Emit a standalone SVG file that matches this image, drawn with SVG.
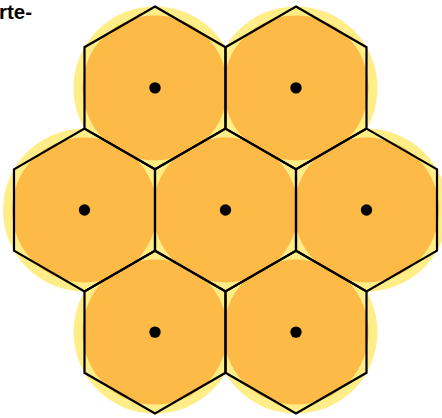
<svg xmlns="http://www.w3.org/2000/svg" xmlns:xlink="http://www.w3.org/1999/xlink" width="442" height="418" viewBox="0 0 442 418">
<style>
.halo{fill:#FFEE88;}
.core{fill:#FDBA46;}
.hex{fill:none;stroke:#000;stroke-width:2.2;stroke-linejoin:miter;}
.dot{fill:#000;}
.lbl{font-family:"Liberation Sans",Arial,sans-serif;font-weight:bold;font-size:20.5px;fill:#000;}
</style>
<defs>
<polygon id="hx" points="0,-81.4 70.5,-40.7 70.5,40.7 0,81.4 -70.5,40.7 -70.5,-40.7"/>
</defs>
<rect width="442" height="418" fill="#fff"/>
<g id="coverage">
<circle class="halo" cx="155" cy="87.9" r="81.5"/>
<circle class="halo" cx="296" cy="87.9" r="81.5"/>
<circle class="halo" cx="84.5" cy="210" r="81.5"/>
<circle class="halo" cx="225.5" cy="210" r="81.5"/>
<circle class="halo" cx="366.5" cy="210" r="81.5"/>
<circle class="halo" cx="155" cy="332.1" r="81.5"/>
<circle class="halo" cx="296" cy="332.1" r="81.5"/>
<circle class="core" cx="155" cy="87.9" r="72.5"/>
<circle class="core" cx="296" cy="87.9" r="72.5"/>
<circle class="core" cx="84.5" cy="210" r="72.5"/>
<circle class="core" cx="225.5" cy="210" r="72.5"/>
<circle class="core" cx="366.5" cy="210" r="72.5"/>
<circle class="core" cx="155" cy="332.1" r="72.5"/>
<circle class="core" cx="296" cy="332.1" r="72.5"/>
</g>
<g id="connectors"></g>
<g id="cell-top-left" transform="translate(155,87.9)"><use xlink:href="#hx" class="hex"/><circle class="dot" r="5.7"/></g>
<g id="cell-top-right" transform="translate(296,87.9)"><use xlink:href="#hx" class="hex"/><circle class="dot" r="5.7"/></g>
<g id="cell-mid-left" transform="translate(84.5,210)"><use xlink:href="#hx" class="hex"/><circle class="dot" r="5.7"/></g>
<g id="cell-center" transform="translate(225.5,210)"><use xlink:href="#hx" class="hex"/><circle class="dot" r="5.7"/></g>
<g id="cell-mid-right" transform="translate(366.5,210)"><use xlink:href="#hx" class="hex"/><circle class="dot" r="5.7"/></g>
<g id="cell-bottom-left" transform="translate(155,332.1)"><use xlink:href="#hx" class="hex"/><circle class="dot" r="5.7"/></g>
<g id="cell-bottom-right" transform="translate(296,332.1)"><use xlink:href="#hx" class="hex"/><circle class="dot" r="5.7"/></g>
<text class="lbl" x="-1" y="19">rte-</text>
</svg>
